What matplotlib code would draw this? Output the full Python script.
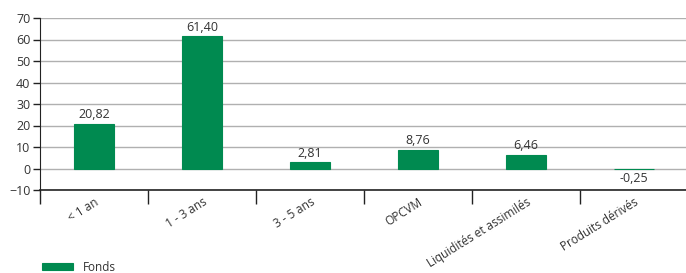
import numpy as np
import matplotlib.pyplot as plt

plt.rcParams['font.family'] = ['Open Sans', 'DejaVu Sans']
plt.rcParams['font.size'] = 9

# données
categories = ['< 1 an', '1 - 3 ans', '3 - 5 ans', 'OPCVM', 'Liquidités et assimilés', 'Produits dérivés']
valeurs = [20.82, 61.40, 2.81, 8.76, 6.46, -0.25]
etiquettes = ['20,82', '61,40', '2,81', '8,76', '6,46', '-0,25']

GREEN = '#008A50'
TXT = '#333333'

fig = plt.figure(figsize=(6.86, 2.73), dpi=100)
ax = fig.add_axes([40 / 686, 1 - 190 / 273, 1 - 40 / 686 + 0.003, (190 - 18) / 273])

x = np.arange(len(categories))
bars = ax.bar(x, valeurs, width=0.37, color=GREEN, edgecolor=GREEN, linewidth=0.8,
              zorder=3, label='Fonds')

for xi, v, lab in zip(x, valeurs, etiquettes):
    if v >= 0:
        ax.text(xi, v + 1.2, lab, ha='center', va='bottom', color=TXT, fontsize=9)
    else:
        ax.text(xi, v - 1.5, lab, ha='center', va='top', color=TXT, fontsize=9)

ax.set_xlim(-0.5, len(categories) - 0.5)
ax.set_ylim(-10, 70)
ax.set_yticks(np.arange(-10, 71, 10))
ax.yaxis.grid(True, color='#b0b0b0', linewidth=1, zorder=0)
ax.tick_params(axis='y', colors='#222222', labelcolor=TXT, length=5, width=1, pad=2)

ax.set_xticks(x)
ax.set_xticklabels(categories, rotation=32, ha='right', rotation_mode='anchor',
                   color=TXT, fontsize=8.5)
ax.tick_params(axis='x', which='major', length=0, pad=4)
ax.set_xticks(np.arange(-0.5, len(categories), 1), minor=True)
ax.tick_params(axis='x', which='minor', length=10, width=1, color='#222222')

for s in ['top', 'right']:
    ax.spines[s].set_visible(False)
ax.spines['left'].set_color('#222222')
ax.spines['bottom'].set_color('#222222')
ax.spines['bottom'].set_linewidth(1.2)

# légende en bas, à peine visible comme dans l'original
fig.legend(handles=[bars], labels=['Fonds'], loc='upper left',
           bbox_to_anchor=(40 / 686 - 0.012, 1 - 250 / 273), frameon=False,
           handlelength=2.6, handleheight=0.45, fontsize=8.5, labelcolor=TXT)

plt.savefig('out.png', dpi=100)
